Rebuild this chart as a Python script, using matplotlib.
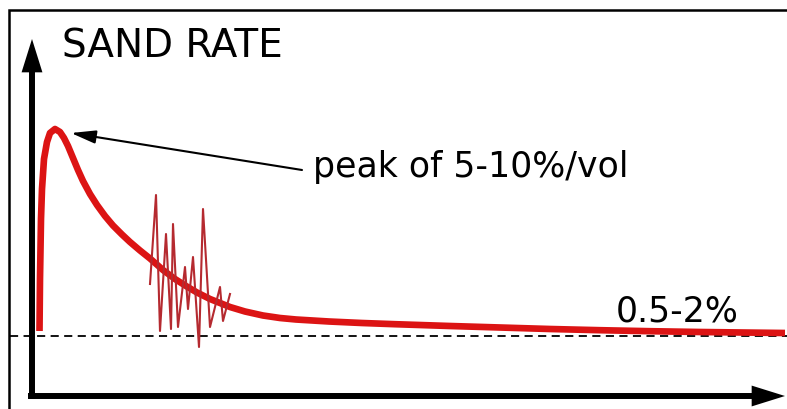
import matplotlib.pyplot as plt
from matplotlib.patches import FancyArrowPatch

t_curve = [7.5, 8, 9, 10, 12, 15, 18, 23, 28, 32, 36, 41, 46, 51, 58, 65,
           73, 81, 90, 98, 108, 118, 131, 143, 154, 165, 178, 188, 198, 213,
           231, 248, 264, 297, 330, 363, 418, 468, 518, 568, 618, 668, 753]
r_curve = [65, 117, 177, 207, 237, 254, 263, 267, 264, 258, 250, 238, 226,
           215, 202, 191, 180, 170.5, 161.5, 154, 145.5, 137.5, 126, 117,
           110, 103.5, 97, 93, 89, 84.5, 80.5, 78, 76.5, 74.5, 73, 71.8, 70,
           68.5, 67, 65.8, 64.8, 64, 63]

# Oscilaciones
t_noise = [118, 124, 128, 134, 139, 141, 146, 153, 156, 161, 167, 171, 178,
           188, 191, 198]
r_noise = [112, 201, 65, 162, 67, 172, 69, 129, 87, 139, 49, 187, 69, 109,
           75, 102]

baseline = 60

fig = plt.figure(figsize=(7.87, 4.10), dpi=100)
ax = fig.add_axes([0, 0, 1, 1])
ax.set_xlim(-32, 755)
ax.set_ylim(-13, 397)
ax.axis('off')

# Marco
ax.plot([-23.5, -23.5, 760], [-20, 386.5, 386.5], color='black', lw=1.8,
        solid_joinstyle='miter')

# Linea base punteada
ax.plot([-22, 755], [baseline, baseline], color='black', lw=1.3,
        dashes=(4.5, 3))

# Curva de tasa de arena
ax.plot(t_curve, r_curve, color='#dc1414', lw=4.8, solid_capstyle='butt',
        solid_joinstyle='round', zorder=3)

# Ruido
ax.plot(t_noise, r_noise, color='#b52a30', lw=1.5, zorder=4)

# Ejes con flechas
for a, b in [((0, -3), (0, 357)), ((-4, 0), (753, 0))]:
    arr = FancyArrowPatch(a, b, arrowstyle='simple,head_length=24,head_width=15,tail_width=4.3',
                          mutation_scale=1, shrinkA=0, shrinkB=0,
                          color='black', lw=0, zorder=5)
    ax.add_patch(arr)

# Textos
ax.text(30, 340, 'SAND RATE', fontsize=28, family='DejaVu Sans',
        va='baseline', ha='left')
ax.annotate('', xy=(39, 263), xytext=(270, 226),
            arrowprops=dict(arrowstyle='-|>,head_length=15,head_width=4',
                            mutation_scale=1, color='black', lw=1.5,
                            shrinkA=0, shrinkB=0))
ax.text(281, 220, 'peak of 5-10%/vol', fontsize=25, family='DejaVu Sans',
        va='baseline', ha='left')
ax.text(584, 75, '0.5-2%', fontsize=25, family='DejaVu Sans',
        va='baseline', ha='left')

fig.savefig('out.png', dpi=100)
